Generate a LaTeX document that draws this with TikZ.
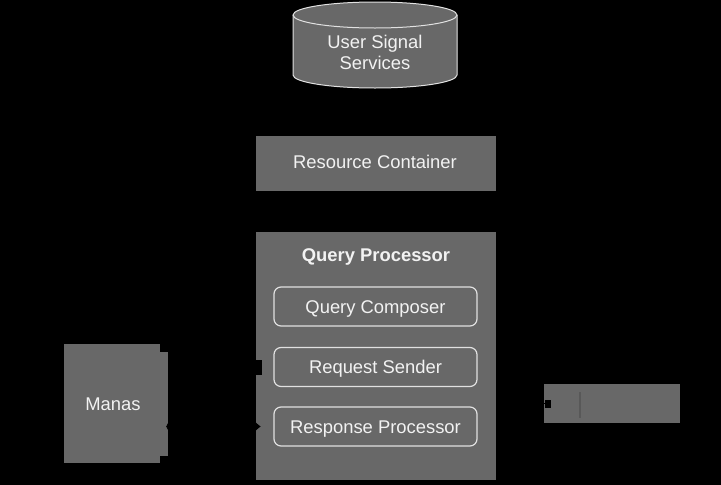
\documentclass[tikz,border=0pt]{standalone}
\usepackage{fontspec}
\setmainfont{Liberation Sans}
\usetikzlibrary{arrows.meta}
\definecolor{boxgray}{RGB}{104,104,104}
\definecolor{txt}{RGB}{242,242,242}
\definecolor{rim}{RGB}{225,225,225}
\definecolor{ghost}{RGB}{88,88,88}
\begin{document}
\begin{tikzpicture}[x=1pt,y=-1pt,
  lbl/.style={text=txt,font=\fontsize{18.4pt}{21pt}\selectfont,inner sep=0pt,align=center},
  capc/.style={text height=13.2pt,text depth=0pt},
  box/.style={fill=boxgray,draw=none,rectangle,inner sep=0pt},
  sub/.style={fill=boxgray,draw=rim,line width=1.2pt,rounded corners=7pt,rectangle,
    minimum width=203pt,minimum height=39pt,inner sep=0pt,text=txt,capc,
    font=\fontsize{18.4pt}{21pt}\selectfont},
  conn/.style={draw=black,line width=1pt}]
\useasboundingbox (0,0) rectangle (721,485);
\fill[black] (0,0) rectangle (721,485);
% cylinder
\path[fill=boxgray,draw=rim,line width=1pt] (293,15) -- (293,75)
  arc[start angle=180,end angle=360,x radius=82pt,y radius=13pt] -- (457,15)
  arc[start angle=0,end angle=180,x radius=82pt,y radius=13pt] -- cycle;
\draw[rim,line width=1pt] (293,15) arc[start angle=180,end angle=360,x radius=82pt,y radius=13pt];
\node[lbl] (us) at (375,52.5) {User Signal\\Services};
% resource container
\node[box,minimum width=240pt,minimum height=55pt] (rc) at (376,163.5) {};
\node[lbl,capc] (rct) at (375,162) {Resource Container};
% query processor
\node[box,minimum width=240pt,minimum height=248pt] (qp) at (376,356) {};
\node[lbl,capc,font=\bfseries\fontsize{18.4pt}{21pt}\selectfont] (qpt) at (376,255) {Query Processor};
\node[sub] (qc) at (375.5,306.5) {Query Composer};
\node[sub] (rs) at (375.5,367) {Request Sender};
\node[sub] (rp) at (375.5,426.5) {Response Processor};
% manas
\fill[boxgray] (158,352) rectangle (168,456);
\node[box,minimum width=96pt,minimum height=119pt] (manas) at (112,403.5) {};
\node[lbl,capc] (mt) at (113,404) {Manas};
% external box
\node[box,minimum width=136pt,minimum height=39pt] (ext) at (612,403.5) {};
\draw[ghost,line width=1.5pt] ([xshift=-32pt,yshift=-14pt]ext.center) -- ([xshift=-32pt,yshift=12pt]ext.center);
% connectors
\coordinate (m1) at ([xshift=8pt]manas.east |- rs.west);
\coordinate (q1) at ([xshift=6pt]qp.west |- rs.west);
\draw[conn,-{Rectangle[length=6pt,width=15pt]}] (m1) -- (q1);
\coordinate (m2) at ([xshift=6pt]manas.east |- rp.west);
\coordinate (q2) at ([xshift=5pt]qp.west |- rp.west);
\draw[conn,{Latex[length=3pt,width=14pt]}-{Latex[length=5pt,width=9pt]}] (m2) -- (q2);
\coordinate (q3) at (qp.east |- ext.west);
\coordinate (e3) at ([xshift=7pt]ext.west);
\draw[conn,-{Rectangle[length=6pt,width=8pt]}] (q3) -- (e3);
\end{tikzpicture}
\end{document}
